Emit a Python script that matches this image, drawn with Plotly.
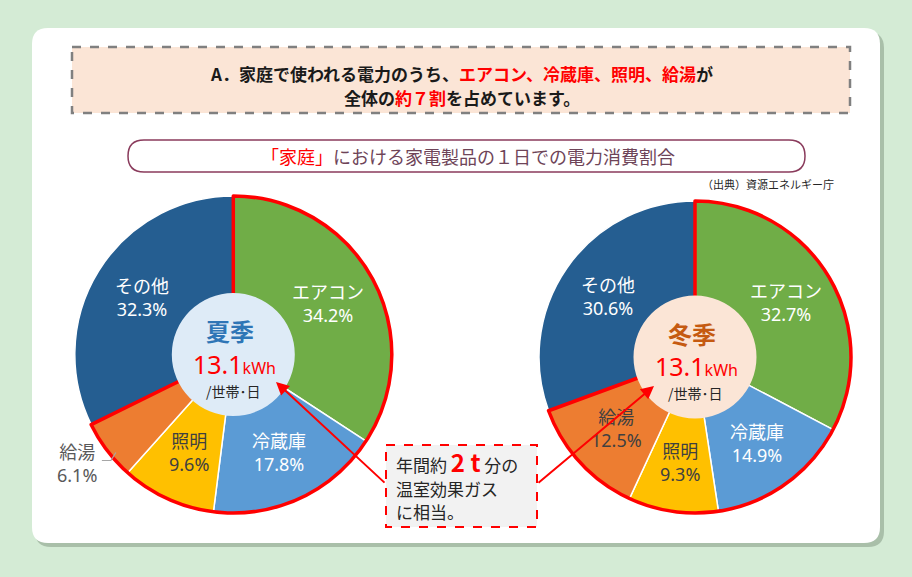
import math
import plotly.graph_objects as go

W, H = 912, 577
FONT = "Noto Sans CJK JP"
FONT_MIX = "Noto Sans, Noto Sans CJK JP"

# ---------------- data ----------------
categories = ["エアコン", "冷蔵庫", "照明", "給湯", "その他"]
summer_values = [34.2, 17.8, 9.6, 6.1, 32.3]
winter_values = [32.7, 14.9, 9.3, 12.5, 30.6]
season_names = ["夏季", "冬季"]
daily_kwh = [13.1, 13.1]
title_line1 = "<b>A．家庭で使われる電力のうち、<span style='color:#FF0000'>エアコン、冷蔵庫、照明、給湯</span>が</b>"
title_line2 = "<b>全体の<span style='color:#FF0000'>約７割</span>を占めています。</b>"
subtitle = "<span style='color:#FF0000'>「家庭」</span>における家電製品の１日での電力消費割合"
source = "（出典）資源エネルギー庁"
note_lines = ["年間約 <span style='color:#FF0000;font-size:24px'><b>2 t</b></span> 分の", "温室効果ガス", "に相当。"]

# ---------------- styles ----------------
slice_colors = ["#70AD47", "#5B9BD5", "#FFC000", "#ED7D31", "#255E91"]
label_colors = ["white", "white", "#404040", "#404040", "white"]
season_colors = ["#2E75B6", "#C55A11"]
circle_fill = ["#DEEBF7", "#FBE5D6"]
# pie geometry in pixels: (cx, cy, r)
pies = [(233.3, 354.5, 158.5), (695.0, 357.0, 156.0)]
outside_labels = [[False, False, False, True, False], [False] * 5]


def px(x):
    return x / W


def py(y):
    return 1 - y / H


def rrect(x0, y0, x1, y1, r):
    pts = [
        ("M", [(x0 + r, y0)]), ("L", [(x1 - r, y0)]), ("Q", [(x1, y0), (x1, y0 + r)]),
        ("L", [(x1, y1 - r)]), ("Q", [(x1, y1), (x1 - r, y1)]), ("L", [(x0 + r, y1)]),
        ("Q", [(x0, y1), (x0, y1 - r)]), ("L", [(x0, y0 + r)]), ("Q", [(x0, y0), (x0 + r, y0)]),
    ]
    s = ""
    for cmd, ps in pts:
        s += cmd + " " + " ".join(f"{px(a):.5f},{py(b):.5f}" for a, b in ps) + " "
    return s + "Z"


def text_at(x, y, text, size, color, xanchor="center", family=FONT):
    return dict(x=px(x), y=py(y), xref="paper", yref="paper", showarrow=False,
                xanchor=xanchor, yanchor="middle", text=text, align="center",
                font=dict(family=family, size=size, color=color))


fig = go.Figure()
shapes = []
annotations = []

# background card
shapes.append(dict(type="path", path=rrect(35, 32, 884, 547, 16), xref="paper", yref="paper",
                   fillcolor="rgba(90,110,90,0.35)", line=dict(width=0), layer="below"))
shapes.append(dict(type="path", path=rrect(32, 28, 880, 543, 16), xref="paper", yref="paper",
                   fillcolor="white", line=dict(width=0), layer="below"))
# title box
shapes.append(dict(type="rect", xref="paper", yref="paper", x0=px(72), x1=px(850), y0=py(47), y1=py(113),
                   fillcolor="#FBE5D6", line=dict(color="#808080", width=2.5, dash="dash"), layer="below"))
# subtitle pill
shapes.append(dict(type="path", path=rrect(128, 140, 805, 172, 16), xref="paper", yref="paper",
                   fillcolor="white", line=dict(color="#8A3B5C", width=1.5), layer="below"))

for i, vals in enumerate([summer_values, winter_values]):
    cx, cy, r = pies[i]
    dom = dict(x=[px(cx - r), px(cx + r)], y=[py(cy + r), py(cy - r)])
    fig.add_trace(go.Pie(
        values=vals, labels=categories, sort=False, direction="clockwise", rotation=0,
        marker=dict(colors=slice_colors, line=dict(color="white", width=1.5)),
        textinfo="none", hoverinfo="skip", showlegend=False, domain=dom))
    # red outline around the four main appliances
    main_sum = sum(vals[:4])
    fig.add_trace(go.Pie(
        values=[main_sum, vals[4]], sort=False, direction="clockwise", rotation=0,
        marker=dict(colors=["rgba(0,0,0,0)", "rgba(0,0,0,0)"],
                    line=dict(color=["#FF0000", "rgba(0,0,0,0)"], width=3.5)),
        textinfo="none", hoverinfo="skip", showlegend=False, domain=dom))

    # slice labels from data angles
    total = sum(vals)
    cum = 0.0
    for j, v in enumerate(vals):
        mid = (cum + v / 2) / total * 2 * math.pi
        cum += v
        out = outside_labels[i][j]
        rr = r * (1.24 if out else 0.68)
        lx = cx + rr * math.sin(mid)
        ly = cy - rr * math.cos(mid) - (10 if out else 0)
        color = "#595959" if out else label_colors[j]
        annotations.append(text_at(lx, ly, f"{categories[j]}<br>{v:.1f}%", 18, color, family=FONT_MIX))
        if out:
            lp = [(lx + 25, ly - 3), (lx + 34, ly - 3), (lx + 39, ly - 11)]
            path = "M " + " L ".join(f"{px(a):.5f},{py(b):.5f}" for a, b in lp)
            shapes.append(dict(type="path", path=path, xref="paper", yref="paper",
                               line=dict(color="#A6A6A6", width=1.2), layer="above"))

    # center circle
    cr = 61.5
    shapes.append(dict(type="circle", xref="paper", yref="paper", x0=px(cx - cr), x1=px(cx + cr),
                       y0=py(cy + cr), y1=py(cy - cr), fillcolor=circle_fill[i], line=dict(width=0),
                       layer="above"))
    annotations.append(text_at(cx - 3, cy - 24, f"<b>{season_names[i]}</b>", 24, season_colors[i]))
    annotations.append(text_at(cx + 1, cy + 9,
                               f"{daily_kwh[i]:.1f}<span style='font-size:16px'>kWh</span>",
                               25, "#FF0000", family=FONT_MIX))
    annotations.append(text_at(cx, cy + 36, "/世帯･日", 14, "#262626"))

# note box
shapes.append(dict(type="rect", xref="paper", yref="paper", x0=px(386), x1=px(537), y0=py(445), y1=py(527),
                   fillcolor="#F2F2F2", line=dict(color="#FF0000", width=2, dash="dash"), layer="above"))
for t, yy in zip(note_lines, [461, 488, 511]):
    annotations.append(text_at(394, yy, t, 17, "#262626", xanchor="left"))

# arrows
annotations.append(dict(x=px(276), y=py(382), xref="paper", yref="paper", text="", showarrow=True,
                        ax=110, ay=102, arrowcolor="#FF0000", arrowwidth=2, arrowhead=2, arrowsize=1.3))
annotations.append(dict(x=px(654), y=py(386), xref="paper", yref="paper", text="", showarrow=True,
                        ax=-117, ay=98, arrowcolor="#FF0000", arrowwidth=2, arrowhead=2, arrowsize=1.3))

# titles
annotations.append(text_at(461, 73, title_line1, 17, "#1A1A1A"))
annotations.append(text_at(462, 97, title_line2, 17, "#1A1A1A"))
annotations.append(text_at(468, 156, subtitle, 18, "#6E4458"))
annotations.append(text_at(836, 184, source, 11, "#262626", xanchor="right"))

fig.update_layout(width=W, height=H, margin=dict(l=0, r=0, t=0, b=0),
                  paper_bgcolor="#D4EBD5", plot_bgcolor="rgba(0,0,0,0)",
                  shapes=shapes, annotations=annotations, showlegend=False)
fig.write_html("out.html")
